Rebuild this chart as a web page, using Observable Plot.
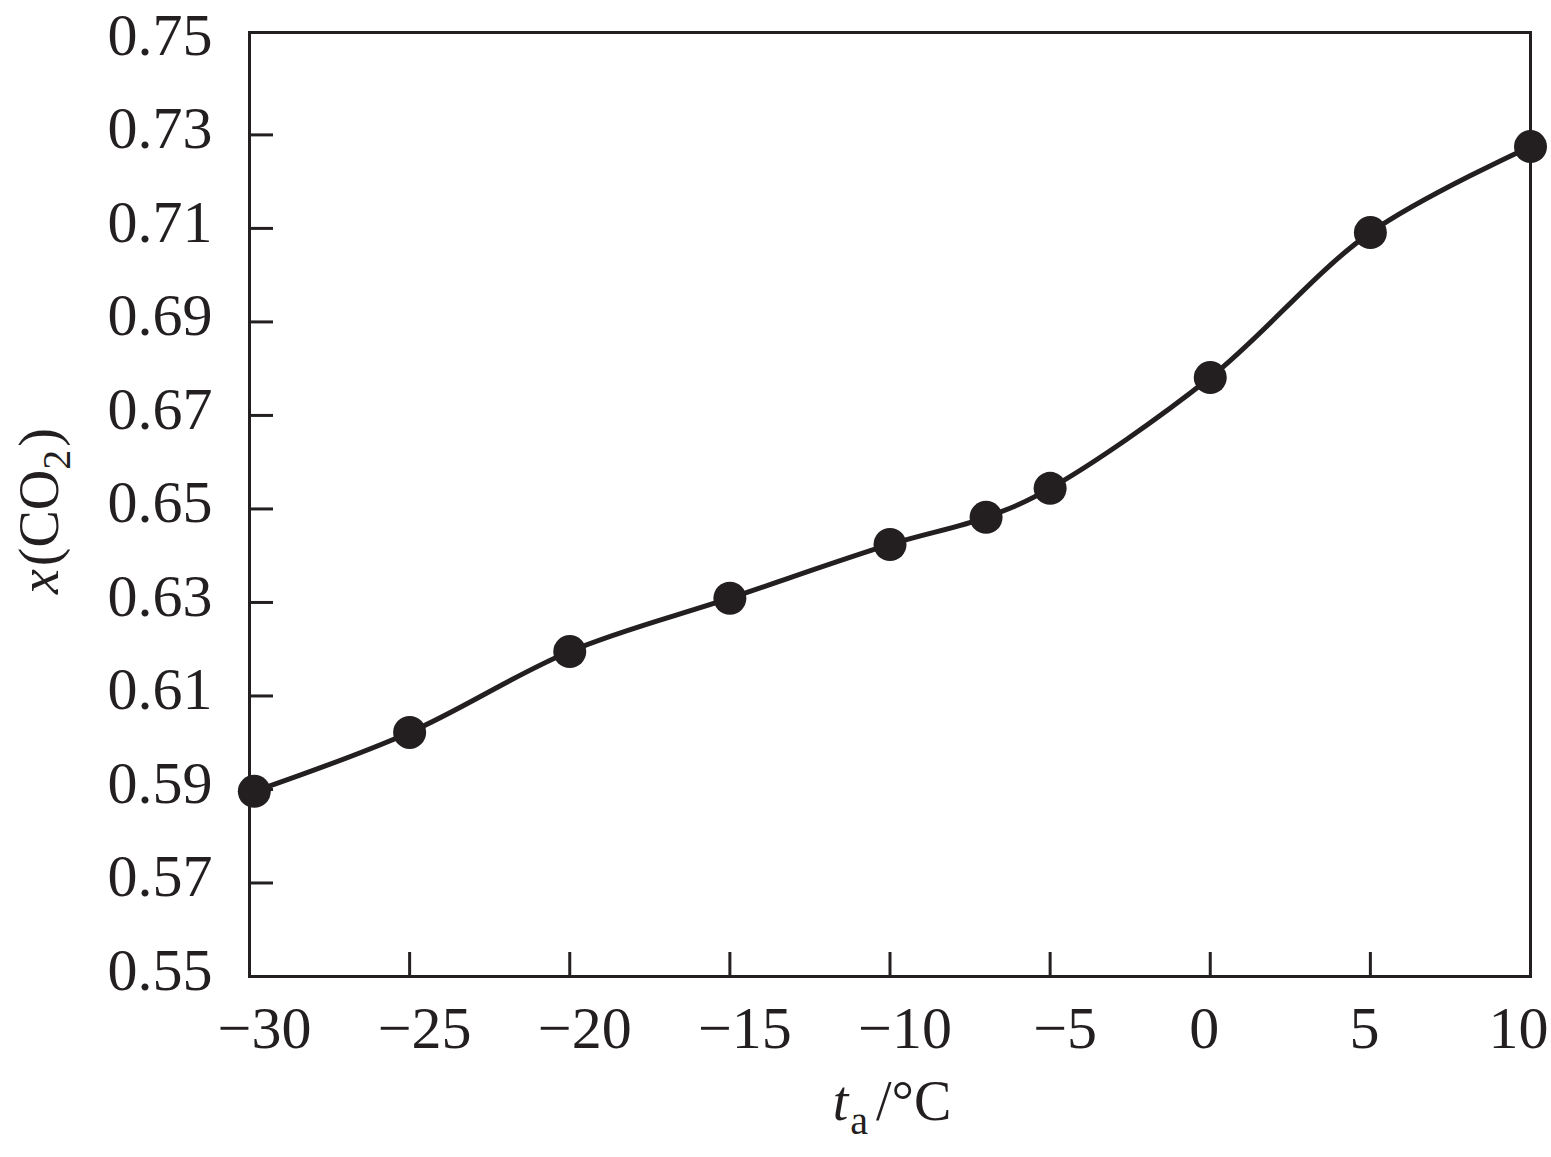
<!DOCTYPE html>
<html>
<head>
<meta charset="utf-8">
<script src="https://cdn.jsdelivr.net/npm/d3@7"></script>
<script src="https://cdn.jsdelivr.net/npm/@observablehq/plot@0.6"></script>
<style>
  html, body { margin: 0; padding: 0; background: #fff; }
  #chart { width: 1551px; height: 1157px; }
</style>
</head>
<body>
<div id="chart"></div>
<script>
// Data
const temperature = [-29.85, -25, -20, -15, -10, -7, -5, 0, 5, 10];
const xCO2 = [0.5896, 0.6022, 0.6195, 0.6309, 0.6424, 0.6482, 0.6544, 0.6781, 0.7091, 0.7275];
const xTickLabelsNeg = [-30, -25, -20, -15, -10, -5];
const xTickLabelsPos = [0, 5];
const xTickLabelsEnd = [10];
const xTicksInner = [-25, -20, -15, -10, -5, 0, 5];
const yTickLabels = [0.55, 0.57, 0.59, 0.61, 0.63, 0.65, 0.67, 0.69, 0.71, 0.73, 0.75];
const yTicksInner = [0.57, 0.59, 0.61, 0.63, 0.65, 0.67, 0.69, 0.71, 0.73];

const data = temperature.map((t, i) => ({t, x: xCO2[i]}));

const ink = "#231f20";
const W = 1551, H = 1157;
const mL = 249, mR = 21, mT = 32, mB = 181;
const frameW = W - mL - mR, frameH = H - mT - mB;
const tickLen = 24;
const fmtX = d => d < 0 ? "\u2212" + Math.abs(d) : String(d);
const serif = "'Liberation Serif', 'Times New Roman', serif";

const svg = Plot.plot({
  width: W,
  height: H,
  marginLeft: mL,
  marginRight: mR,
  marginTop: mT,
  marginBottom: mB,
  style: {fontFamily: serif, fontSize: "60px", color: ink, background: "#fff"},
  x: {domain: [-30, 10]},
  y: {domain: [0.55, 0.7519]},
  marks: [
    Plot.tickX(xTicksInner, {x: d => d, stroke: ink, strokeWidth: 3, insetTop: frameH - tickLen}),
    Plot.tickY(yTicksInner, {y: d => d, stroke: ink, strokeWidth: 3, insetRight: frameW - tickLen}),
    Plot.axisX(xTickLabelsNeg, {tickSize: 0, tickPadding: 29, dx: 15, tickFormat: fmtX, label: null, fontSize: 60, fill: ink}),
    Plot.axisX(xTickLabelsPos, {tickSize: 0, tickPadding: 29, dx: -6, tickFormat: fmtX, label: null, fontSize: 60, fill: ink}),
    Plot.axisX(xTickLabelsEnd, {tickSize: 0, tickPadding: 29, dx: -12, tickFormat: fmtX, label: null, fontSize: 60, fill: ink}),
    Plot.axisY(yTickLabels, {tickSize: 0, tickPadding: 37, dy: -6, tickFormat: d3.format(".2f"), label: null, fontSize: 60, fill: ink}),
    Plot.line(data, {x: "t", y: "x", curve: "catmull-rom", stroke: ink, strokeWidth: 5}),
    Plot.dot(data, {x: "t", y: "x", r: 16.5, fill: ink, stroke: "none"}),
    Plot.frame({stroke: ink, strokeWidth: 3})
  ]
});

const s = d3.select(svg);
// x-axis title: t_a/°C
const xt = s.append("text")
  .attr("x", 892).attr("y", 1120)
  .attr("text-anchor", "middle")
  .attr("font-family", serif)
  .attr("font-size", 56)
  .attr("fill", ink);
xt.append("tspan").attr("font-style", "italic").text("t");
xt.append("tspan").attr("font-size", 40).attr("dy", 14).attr("dx", 2).text("a");
xt.append("tspan").attr("dy", -14).attr("dx", 8).text("/°C");

// y-axis title: x(CO2)
const yt = s.append("text")
  .attr("transform", "translate(58,511) rotate(-90)")
  .attr("text-anchor", "middle")
  .attr("font-family", serif)
  .attr("font-size", 56)
  .attr("fill", ink);
yt.append("tspan").attr("font-style", "italic").text("x");
yt.append("tspan").attr("dx", 3).text("(CO");
yt.append("tspan").attr("font-size", 40).attr("dy", 12).text("2");
yt.append("tspan").attr("dy", -12).attr("dx", 3).text(")");

document.getElementById("chart").appendChild(svg);
</script>
</body>
</html>
